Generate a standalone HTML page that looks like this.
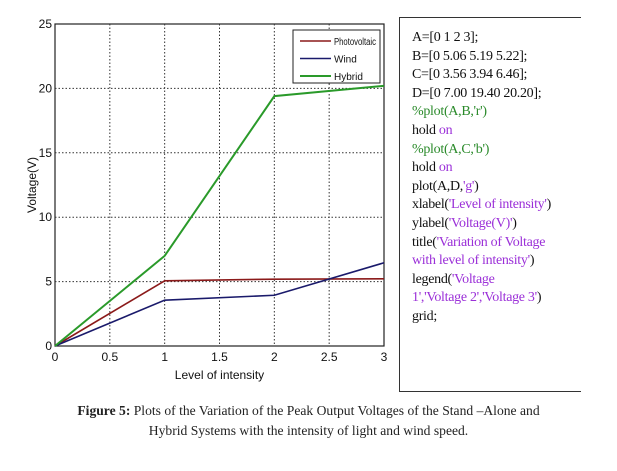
<!DOCTYPE html>
<html><head><meta charset="utf-8"><style>
body{margin:0;background:#fff;width:617px;height:471px;overflow:hidden;position:relative;font-family:"Liberation Sans",sans-serif}
#code{position:absolute;left:399px;top:17px;width:182px;height:375px;border-left:1.5px solid #333;border-top:1.5px solid #333;border-bottom:1.5px solid #333;box-sizing:border-box;padding:11px 0 0 12px;font-family:"Liberation Serif",serif;font-size:14px;line-height:18.6px;color:#111;letter-spacing:-0.3px;white-space:nowrap}
.g{color:#2a8a2a}.p{color:#9b30d8}
#cap{position:absolute;left:0;top:401px;width:617px;text-align:center;font-family:"Liberation Serif",serif;font-size:13.6px;line-height:20px;color:#222}
</style></head><body>
<svg id="chart" width="397" height="395" style="position:absolute;left:0;top:0" font-family="Liberation Sans, sans-serif"></svg>
<div id="code">
A=[0 1 2 3];<br>B=[0 5.06 5.19 5.22];<br>C=[0 3.56 3.94 6.46];<br>D=[0 7.00 19.40 20.20];<br>
<span class="g">%plot(A,B,'r')</span><br>hold <span class="p">on</span><br><span class="g">%plot(A,C,'b')</span><br>hold <span class="p">on</span><br>
plot(A,D,<span class="p">'g'</span>)<br>xlabel(<span class="p">'Level of intensity'</span>)<br>ylabel(<span class="p">'Voltage(V)'</span>)<br>
title(<span class="p">'Variation of Voltage<br>with level of intensity'</span>)<br>legend(<span class="p">'Voltage<br>1','Voltage 2','Voltage 3'</span>)<br>grid;
</div>
<div id="cap"><b>Figure 5:</b> Plots of the Variation of the Peak Output Voltages of the Stand –Alone and<br>Hybrid Systems with the intensity of light and wind speed.</div>
<script>
const xCats=[0,1,2,3];
const pv=[0,5.06,5.19,5.22];
const wind=[0,3.56,3.94,6.46];
const hybrid=[0,7.00,19.40,20.20];
const xTicks=["0","0.5","1","1.5","2","2.5","3"];
const yTicks=["0","5","10","15","20","25"];
const names=["Photovoltaic","Wind","Hybrid"];
const svg=document.getElementById('chart');const NS="http://www.w3.org/2000/svg";
const L=55,R=384,T=24,B=346;
const sx=v=>L+(v/3)*(R-L), sy=v=>B-(v/25)*(B-T);
function mk(t,a,p){const e=document.createElementNS(NS,t);for(const k in a)e.setAttribute(k,a[k]);(p||svg).appendChild(e);return e;}
const bg=mk('rect',{x:L,y:T,width:R-L,height:B-T,fill:'#fff',stroke:'#222','stroke-width':1.2});


xTicks.forEach(t=>{const x=sx(+t);
 if(+t>0&&+t<3){const g=mk('line',{x1:x,x2:x,y1:T,y2:B,stroke:'#333','stroke-dasharray':'1.5,2','stroke-width':1});
 
 }
 const tx=mk('text',{x:x,y:B+15,'text-anchor':'middle','font-size':12,fill:'#111'});tx.textContent=t;
 
 });
yTicks.forEach(t=>{const y=sy(+t);
 if(+t>0&&+t<25){const g=mk('line',{x1:L,x2:R,y1:y,y2:y,stroke:'#333','stroke-dasharray':'1.5,2','stroke-width':1});
 
 }
 const tx=mk('text',{x:L-3,y:y+4,'text-anchor':'end','font-size':12,fill:'#111'});tx.textContent=t;
 
 });
const xl=mk('text',{x:(L+R)/2,y:379,'text-anchor':'middle','font-size':12,fill:'#111'});xl.textContent='Level of intensity';


const yl=mk('text',{x:0,y:0,'text-anchor':'middle','font-size':12,fill:'#111',transform:`translate(36,${(T+B)/2}) rotate(-90)`});yl.textContent='Voltage(V)';


const series=[[pv,'#8b1a1a',1.6,'photovoltaic-line'],[wind,'#1a1a6b',1.6,'wind-line'],[hybrid,'#2a9a2a',2,'hybrid-line']];
series.forEach(s=>{const p=mk('polyline',{points:s[0].map((v,i)=>sx(xCats[i])+','+sy(v)).join(' '),fill:'none',stroke:s[1],'stroke-width':s[2]});
 
 });
const lg=mk('rect',{x:293,y:30,width:87,height:53,fill:'#fff',stroke:'#222','stroke-width':1});


names.forEach((n,i)=>{const y=41+i*17.5;
 const ln=mk('line',{x1:300,x2:331,y1:y,y2:y,stroke:series[i][1],'stroke-width':series[i][2]});
 
 
 const tx=mk('text',{x:334,y:y+4,'font-size':10,fill:'#111'});tx.textContent=n;
 if(n.length>8){tx.setAttribute('textLength',42);tx.setAttribute('lengthAdjust','spacingAndGlyphs');}
 
 });
</script>
</body></html>
